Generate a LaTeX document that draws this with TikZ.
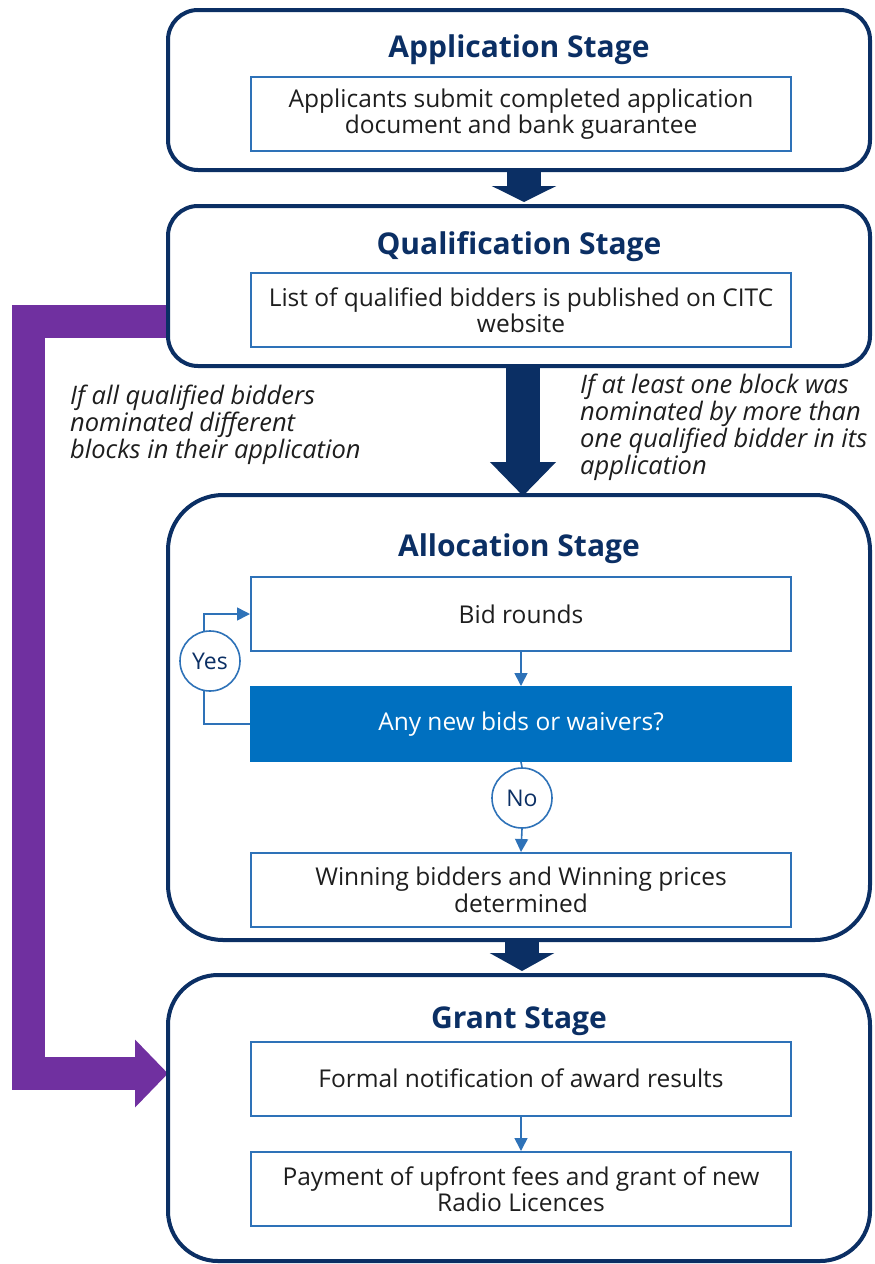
\documentclass[tikz,border=0pt]{standalone}
\usepackage{fontspec}
\setmainfont{Open Sans}
\usetikzlibrary{arrows.meta,positioning}
\definecolor{navy}{HTML}{0B2F64}
\definecolor{lblue}{HTML}{2E72B8}
\definecolor{fblue}{HTML}{0070C0}
\definecolor{purp}{HTML}{7030A0}
\definecolor{txt}{HTML}{1E1E1E}
\tikzset{
  stagebox/.style={draw=navy, line width=4pt, minimum width=702pt, inner sep=0pt},
  title/.style={text=navy, font=\fontsize{30}{32}\selectfont\bfseries},
  inbox/.style={draw=lblue, line width=2pt, fill=white, minimum width=540pt, minimum height=74pt, inner sep=0pt, align=center, text=txt, font=\fontsize{24.5}{26.5}\selectfont},
  bigarrow/.style={navy, line width=34pt},
  thin/.style={draw=lblue, line width=1.6pt},
  thinarrow/.style={thin, -{Triangle[width=13pt,length=13pt]}},
  circ/.style={circle, draw=lblue, line width=1.6pt, fill=white, minimum size=60pt, inner sep=0pt, text=navy, font=\fontsize{23}{24}\selectfont},
  note/.style={align=left, text=txt, font=\fontsize{25.5}{27}\selectfont\itshape, inner sep=0pt, anchor=north west}
}
\begin{document}
\begin{tikzpicture}[x=1pt,y=-1pt]
\useasboundingbox (0,0) rectangle (875,1264);
% purple bypass arrow
\coordinate (p0) at (168,321.5);
\coordinate (p1) at (28.5,321.5);
\coordinate (p2) at (28.5,1073.5);
\coordinate (p3) at (168,1073.5);
\draw[purp, line width=33pt, line join=miter, -{Triangle[width=66pt,length=33pt]}] (p0) -- (p1) -- (p2) -- (p3);
% stage boxes
\node[stagebox, rounded corners=30pt, minimum height=160pt] (app) at (519,90) {};
\node[stagebox, rounded corners=30pt, minimum height=160pt] (qual) at (519,286) {};
\node[stagebox, rounded corners=55pt, minimum height=445pt] (alloc) at (519,717.5) {};
\node[stagebox, rounded corners=50pt, minimum height=286pt] (grant) at (519,1118) {};
% titles
\node[title] (tapp) at (519,50) {Application Stage};
\node[title] (tqual) at (519,247) {Qualification Stage};
\node[title] (talloc) at (519,549) {Allocation Stage};
\node[title] (tgrant) at (519,1021) {Grant Stage};
% inner boxes
\node[inbox] (sub) at (521,114) {Applicants submit completed application\\document and bank guarantee};
\node[inbox] (list) at (521,310) {List of qualified bidders is published on CITC\\website};
\node[inbox] (bid) at (521,614) {Bid rounds};
\node[inbox, fill=fblue, draw=fblue, text=white] (dec) at (521,724) {Any new bids or waivers?};
\node[inbox] (win) at (521,890) {Winning bidders and Winning prices\\determined};
\node[inbox] (formal) at (521,1078.5) {Formal notification of award results};
\node[inbox] (pay) at (521,1189) {Payment of upfront fees and grant of new\\Radio Licences};
% big arrows
\draw[bigarrow, -{Triangle[width=64pt,length=16pt]}] ([xshift=5pt]app.south) -- ([xshift=5pt,yshift=2pt]qual.north);
\draw[bigarrow, -{Triangle[width=64pt,length=34pt]}] ([xshift=4pt]qual.south) -- ([xshift=4pt,yshift=-3pt]alloc.north);
\draw[bigarrow, -{Triangle[width=64pt,length=18pt]}] ([xshift=3pt]alloc.south) -- ([xshift=3pt,yshift=2pt]grant.north);
% notes
\node[note] (nl) at (70,385) {If all qualified bidders\\nominated different\\blocks in their application};
\node[note] (nr) at (580,374) {If at least one block was\\nominated by more than\\one qualified bidder in its\\application};
% allocation loop
\coordinate (yl) at (204,724);
\draw[thinarrow] (dec.west) -- (yl) |- (bid.west);
\node[circ] (yes) at (210,661) {Yes};
\draw[thinarrow] (bid.south) -- (dec.north);
\node[circ] (no) at (522,798) {No};
\draw[thin] (dec.south) -- (no.north);
\draw[thinarrow] (no.south) -- (win.north);
\draw[thinarrow] (formal.south) -- (pay.north);
\end{tikzpicture}
\end{document}
